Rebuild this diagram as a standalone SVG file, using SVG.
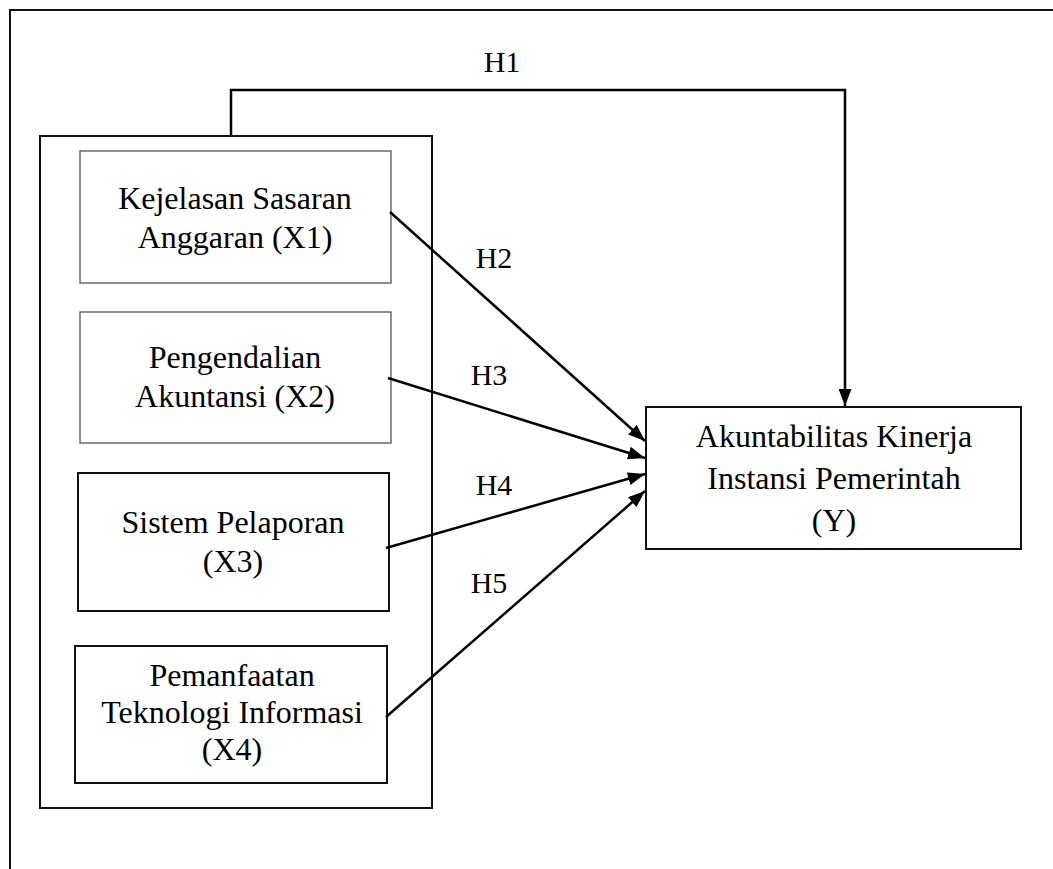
<svg xmlns="http://www.w3.org/2000/svg" width="1053" height="869" viewBox="0 0 1053 869">
<style>
.t{font-family:"Liberation Serif","Times New Roman",serif;font-size:32px;fill:#000;text-anchor:middle}
.h{font-family:"Liberation Serif","Times New Roman",serif;font-size:30px;fill:#000;text-anchor:middle}
.thin{fill:#fff;stroke:#555;stroke-width:1.3}
.bold{fill:#fff;stroke:#111;stroke-width:2}
.c{fill:none;stroke:#000;stroke-width:2.5}
</style>
<defs>
<marker id="ah" viewBox="0 0 17 13" refX="17" refY="6.5" markerWidth="17" markerHeight="13" markerUnits="userSpaceOnUse" orient="auto">
<path d="M0,0 L17,6.5 L0,13 Z" fill="#000"/>
</marker>
</defs>
<rect width="1053" height="869" fill="#fff"/>
<g id="frame">
<path d="M1053,10 L10,10 L10,869" fill="none" stroke="#111" stroke-width="2"/>
</g>
<g id="group">
<rect class="bold" x="40" y="136" width="392" height="672"/>
</g>
<g id="x1">
<rect class="thin" x="80" y="151" width="311" height="132"/>
<text class="t" x="235" y="209">Kejelasan Sasaran</text>
<text class="t" x="235" y="248">Anggaran (X1)</text>
</g>
<g id="x2">
<rect class="thin" x="80" y="312" width="311" height="131"/>
<text class="t" x="235" y="368">Pengendalian</text>
<text class="t" x="235" y="407">Akuntansi (X2)</text>
</g>
<g id="x3">
<rect class="bold" x="78" y="473" width="311" height="138"/>
<text class="t" x="233" y="533">Sistem Pelaporan</text>
<text class="t" x="233" y="572">(X3)</text>
</g>
<g id="x4">
<rect class="bold" x="75" y="646" width="312" height="137"/>
<text class="t" x="232" y="686">Pemanfaatan</text>
<text class="t" x="232" y="723">Teknologi Informasi</text>
<text class="t" x="232" y="760">(X4)</text>
</g>
<g id="y">
<rect class="bold" x="646" y="407" width="375" height="142"/>
<text class="t" x="834" y="447">Akuntabilitas Kinerja</text>
<text class="t" x="834" y="489">Instansi Pemerintah</text>
<text class="t" x="834" y="531">(Y)</text>
</g>
<g id="connectors">
<path class="c" d="M231,136 L231,90 L845,90 L845,406" marker-end="url(#ah)"/>
<line class="c" x1="390" y1="212" x2="645" y2="441" marker-end="url(#ah)"/>
<line class="c" x1="388" y1="378" x2="645" y2="458" marker-end="url(#ah)"/>
<line class="c" x1="386" y1="548" x2="645" y2="474" marker-end="url(#ah)"/>
<line class="c" x1="386" y1="717" x2="645" y2="491" marker-end="url(#ah)"/>
</g>
<g id="labels">
<text class="h" x="502" y="72">H1</text>
<text class="h" x="494" y="268">H2</text>
<text class="h" x="489" y="385">H3</text>
<text class="h" x="494" y="495">H4</text>
<text class="h" x="489" y="593">H5</text>
</g>
</svg>
